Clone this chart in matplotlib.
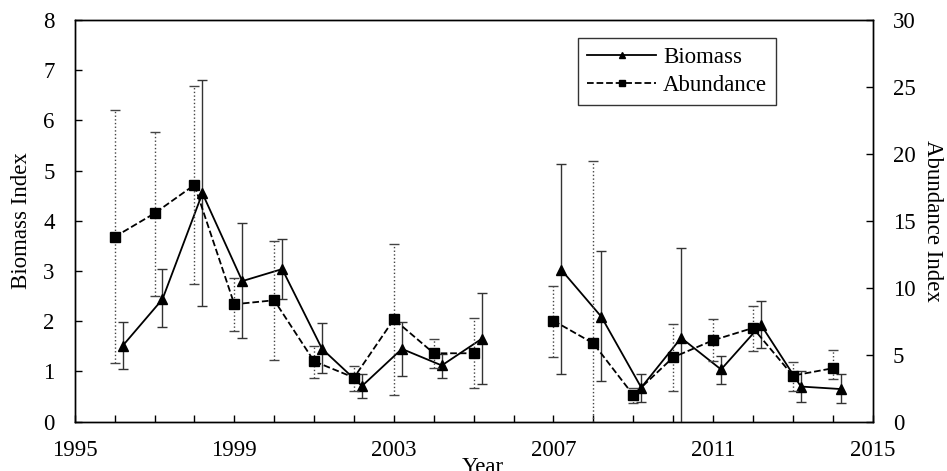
import numpy as np
import matplotlib
matplotlib.use("Agg")
import matplotlib.pyplot as plt
from matplotlib.ticker import MultipleLocator, FixedLocator

plt.rcParams['font.family'] = ['Liberation Serif', 'DejaVu Serif']

# years (2006 missing)
years = np.array([1996, 1997, 1998, 1999, 2000, 2001, 2002, 2003, 2004, 2005,
                  2006, 2007, 2008, 2009, 2010, 2011, 2012, 2013, 2014], dtype=float)
year_ticks = [1995, 1999, 2003, 2007, 2011, 2015]

# biomass index (left axis), with upper / lower bounds
biomass = [1.51, 2.44, 4.55, 2.80, 3.04, 1.45, 0.71, 1.45, 1.12, 1.65,
           np.nan, 3.02, 2.09, 0.68, 1.67, 1.04, 1.93, 0.70, 0.65]
biomass_hi = [1.99, 3.04, 6.81, 3.95, 3.63, 1.96, 0.95, 1.99, 1.35, 2.57,
              np.nan, 5.13, 3.39, 0.95, 3.46, 1.31, 2.41, 1.00, 0.95]
biomass_lo = [1.04, 1.88, 2.30, 1.66, 2.44, 0.96, 0.47, 0.91, 0.87, 0.75,
              np.nan, 0.94, 0.81, 0.40, -0.5, 0.76, 1.46, 0.40, 0.37]

# abundance index (right axis), with upper / lower bounds
abundance = [13.8, 15.56, 17.68, 8.77, 9.07, 4.51, 3.29, 7.65, 5.11, 5.11,
             np.nan, 7.54, 5.85, 1.99, 4.81, 6.08, 7.00, 3.44, 3.99]
abundance_hi = [23.28, 21.66, 25.07, 10.71, 13.47, 5.68, 4.18, 13.25, 6.15, 7.72,
                np.nan, 10.16, 19.47, 2.54, 7.30, 7.67, 8.66, 4.48, 5.38]
abundance_lo = [4.36, 9.41, 10.26, 6.77, 4.61, 3.26, 2.32, 1.97, 3.99, 2.49,
                np.nan, 4.85, -2.0, 1.37, 2.29, 4.53, 5.28, 2.27, 3.19]

biomass = np.array(biomass)
abundance = np.array(abundance)
b_err = [biomass - np.array(biomass_lo), np.array(biomass_hi) - biomass]
a_err = [abundance - np.array(abundance_lo), np.array(abundance_hi) - abundance]

fig = plt.figure(figsize=(9.47, 4.71), dpi=100)
ax = fig.add_axes([0.0789, 0.1047, 0.8426, 0.8528])
ax2 = ax.twinx()

# biomass, shifted slightly to the right
b = ax.errorbar(years + 0.2, biomass, yerr=b_err, color='black', lw=1.3,
                marker='^', ms=7.5, ecolor='#333333', elinewidth=1.0,
                capsize=3.5, capthick=1.0, label='Biomass', zorder=3)

a = ax2.errorbar(years, abundance, yerr=a_err, color='black', lw=1.3, ls='--',
                 marker='s', ms=7, ecolor='#444444', elinewidth=1.0,
                 capsize=3.5, capthick=1.0, label='Abundance', zorder=3)
a[2][0].set_linestyle(':')

ax.set_xlim(1995, 2015)
ax.set_ylim(0, 8)
ax2.set_ylim(0, 30)
ax.xaxis.set_major_locator(FixedLocator(year_ticks))
ax.xaxis.set_minor_locator(MultipleLocator(1))
ax.yaxis.set_major_locator(MultipleLocator(1))
ax2.yaxis.set_major_locator(MultipleLocator(5))

fs = 16.5
ax.tick_params(axis='both', which='both', direction='in', length=5, width=1,
               labelsize=fs)
ax.tick_params(axis='x', which='major', pad=13)
ax.tick_params(axis='y', pad=14.5)
ax2.tick_params(axis='y', direction='in', length=5, width=1, labelsize=fs, pad=14.5)
for s in list(ax.spines.values()) + list(ax2.spines.values()):
    s.set_linewidth(1.0)

ax.set_ylabel('Biomass Index', fontsize=fs, labelpad=8)
ax2.set_ylabel('Abundance Index', fontsize=fs, rotation=270, labelpad=20)
ax.set_xlabel('Year', fontsize=fs, labelpad=-3)
ax.xaxis.label.set_x(0.512)

handles = [b[0], a[0]]
leg = ax.legend(handles, ['Biomass', 'Abundance'], loc='upper left',
                bbox_to_anchor=(0.631, 0.955), borderaxespad=0, fontsize=fs,
                numpoints=1, frameon=True, fancybox=False, edgecolor='black',
                borderpad=0.4, handlelength=3.0, handletextpad=0.3,
                labelspacing=0.3)
leg.get_frame().set_linewidth(1.0)
for h in leg.legend_handles:
    h.set_markersize(5)

fig.savefig('out.png', dpi=100)
